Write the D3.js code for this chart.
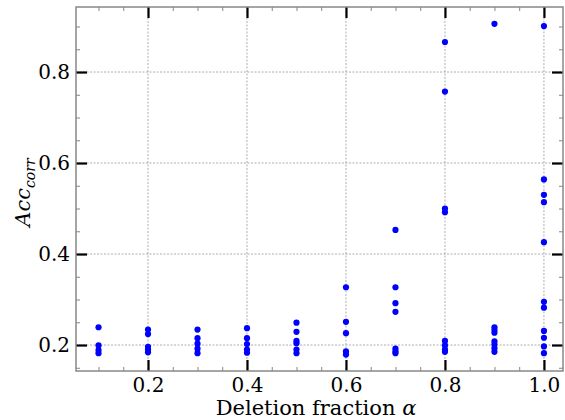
<!DOCTYPE html>
<html>
<head>
<meta charset="utf-8">
<script src="https://cdn.jsdelivr.net/npm/d3@7"></script>
<style>
html,body{margin:0;padding:0;background:#fff;}
svg{display:block;}
</style>
</head>
<body>
<svg id="chart" width="565" height="420" font-family="DejaVu Serif"></svg>
<script>
const alphas = [0.1, 0.2, 0.3, 0.4, 0.5, 0.6, 0.7, 0.8, 0.9, 1.0];
const acc01 = [0.239, 0.199, 0.189, 0.182];
const acc02 = [0.234, 0.224, 0.196, 0.190, 0.184];
const acc03 = [0.234, 0.215, 0.203, 0.192, 0.182];
const acc04 = [0.237, 0.215, 0.202, 0.190, 0.183];
const acc05 = [0.249, 0.229, 0.209, 0.204, 0.190, 0.182];
const acc06 = [0.327, 0.251, 0.226, 0.186, 0.179];
const acc07 = [0.453, 0.327, 0.292, 0.273, 0.192, 0.186, 0.182];
const acc08 = [0.866, 0.757, 0.500, 0.492, 0.209, 0.199, 0.190, 0.185];
const acc09 = [0.906, 0.239, 0.233, 0.227, 0.208, 0.201, 0.193, 0.185];
const acc10 = [0.901, 0.564, 0.530, 0.514, 0.426, 0.295, 0.282, 0.231, 0.216, 0.197, 0.182];
const accByAlpha = [acc01, acc02, acc03, acc04, acc05, acc06, acc07, acc08, acc09, acc10];
const xTicks = [0.2, 0.4, 0.6, 0.8, 1.0];
const yTicks = [0.2, 0.4, 0.6, 0.8];

const FONT = "DejaVu Serif";
const points = [];
alphas.forEach((a, i) => accByAlpha[i].forEach(v => points.push({a, v})));

const svg = d3.select("#chart");
const m = {left: 76, top: 7, right: 2, bottom: 49};
const W = 565 - m.left - m.right, H = 420 - m.top - m.bottom;
const g = svg.append("g").attr("transform", `translate(${m.left},${m.top})`);

const x = d3.scaleLinear().domain([0.0545, 1.0385]).range([0, W]);
const y = d3.scaleLinear().domain([0.1429, 0.9429]).range([H, 0]);

const xMinor = d3.range(0.1, 1.001, 0.05).map(d => +d.toFixed(2)).filter(d => !xTicks.some(t => Math.abs(t - d) < 1e-6));
const yMinor = d3.range(0.15, 0.941, 0.05).map(d => +d.toFixed(2)).filter(d => !yTicks.some(t => Math.abs(t - d) < 1e-6));

// grid
g.append("g").selectAll("line").data(xTicks).join("line")
  .attr("x1", d => x(d)).attr("x2", d => x(d)).attr("y1", 0).attr("y2", H)
  .attr("stroke", "#999").attr("stroke-width", 0.8).attr("stroke-dasharray", "2,1.5");
g.append("g").selectAll("line").data(yTicks).join("line")
  .attr("y1", d => y(d)).attr("y2", d => y(d)).attr("x1", 0).attr("x2", W)
  .attr("stroke", "#999").attr("stroke-width", 0.8).attr("stroke-dasharray", "2,1.5");

function styleAxis(sel) {
  sel.attr("font-size", 20).attr("font-family", FONT);
  sel.select(".domain").remove();
  sel.selectAll(".tick line").attr("stroke", "#000").attr("stroke-width", 2.2);
  sel.selectAll(".tick text").attr("fill", "#000");
}
function styleMinor(sel) {
  sel.select(".domain").remove();
  sel.selectAll(".tick line").attr("stroke", "#666").attr("stroke-width", 0.8);
  sel.selectAll(".tick text").remove();
}
const fmt = d3.format(".1f");
g.append("g").attr("transform", `translate(0,${H})`)
  .call(d3.axisBottom(x).tickValues(xTicks).tickFormat(fmt).tickSize(-11).tickPadding(7)).call(styleAxis);
g.append("g").attr("transform", `translate(0,${H})`)
  .call(d3.axisBottom(x).tickValues(xMinor).tickSize(-4)).call(styleMinor);
g.append("g")
  .call(d3.axisTop(x).tickValues(xTicks).tickFormat("").tickSize(-11)).call(styleAxis);
g.append("g")
  .call(d3.axisTop(x).tickValues(xMinor).tickSize(-4)).call(styleMinor);
g.append("g")
  .call(d3.axisLeft(y).tickValues(yTicks).tickFormat(fmt).tickSize(-11).tickPadding(6)).call(styleAxis);
g.append("g")
  .call(d3.axisLeft(y).tickValues(yMinor).tickSize(-4)).call(styleMinor);
g.append("g").attr("transform", `translate(${W},0)`)
  .call(d3.axisRight(y).tickValues(yTicks).tickFormat("").tickSize(-11)).call(styleAxis);
g.append("g").attr("transform", `translate(${W},0)`)
  .call(d3.axisRight(y).tickValues(yMinor).tickSize(-4)).call(styleMinor);

// frame
g.append("rect").attr("x", 0).attr("y", 0).attr("width", W).attr("height", H)
  .attr("fill", "none").attr("stroke", "#888").attr("stroke-width", 1.5);

// points
g.append("g").selectAll("circle").data(points).join("circle")
  .attr("cx", d => x(d.a)).attr("cy", d => y(d.v)).attr("r", 3.1).attr("fill", "#0000ff");

// labels
const xl = svg.append("text").attr("x", 316).attr("y", 415).attr("text-anchor", "middle")
  .attr("font-family", FONT).attr("font-size", 21).attr("fill", "#000");
xl.append("tspan").text("Deletion fraction ");
xl.append("tspan").attr("font-style", "italic").text("α");
const yl = svg.append("text").attr("transform", `translate(30,${m.top + y(0.535)}) rotate(-90)`)
  .attr("text-anchor", "middle").attr("font-family", FONT).attr("font-size", 21)
  .attr("font-style", "italic").attr("fill", "#000");
yl.append("tspan").text("Acc");
yl.append("tspan").attr("font-size", 14).attr("dy", 5).text("corr");
</script>
</body>
</html>
